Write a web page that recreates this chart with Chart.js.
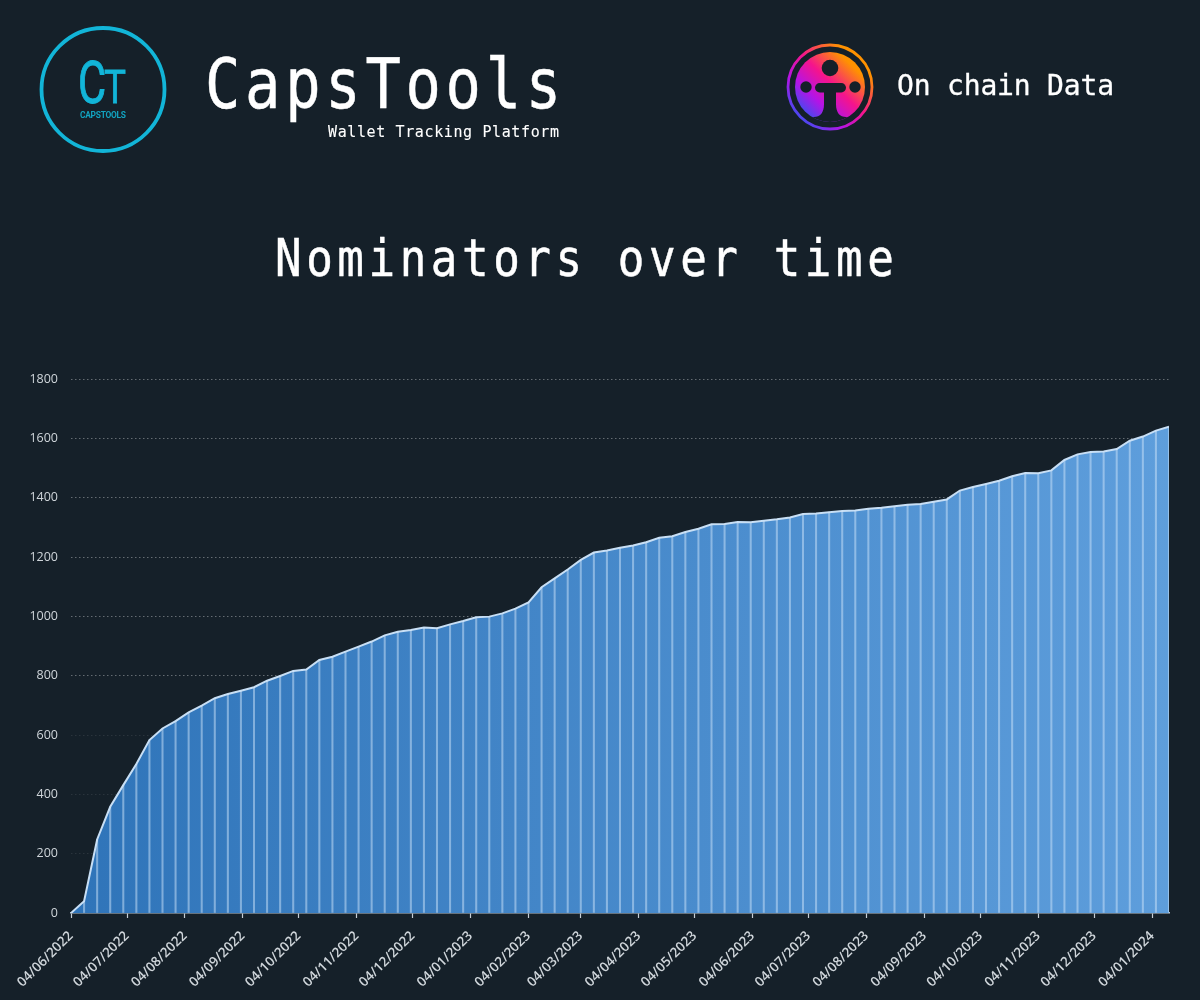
<!DOCTYPE html>
<html lang="en">
<head>
<meta charset="utf-8">
<title>Nominators over time</title>
<script src="https://cdn.jsdelivr.net/npm/chart.js@4"></script>
<style>
  html, body { margin: 0; padding: 0; background: #152029; width: 1200px; height: 1000px; overflow: hidden; }
  #chart { position: absolute; left: 0; top: 0; }
  #head { position: absolute; left: 0; top: 0; }
  .mono { font-family: "DejaVu Sans Mono", monospace; fill: #ffffff; stroke: #ffffff; }
</style>
</head>
<body>
<canvas id="chart" width="1200" height="1000"></canvas>
<svg id="head" width="1200" height="340" viewBox="0 0 1200 340" xmlns="http://www.w3.org/2000/svg">
  <defs>
    <linearGradient id="tokenGrad" x1="0.1" y1="0.92" x2="0.88" y2="0.1">
      <stop offset="0" stop-color="#2f55f2"/>
      <stop offset="0.28" stop-color="#b414e6"/>
      <stop offset="0.56" stop-color="#f5148c"/>
      <stop offset="0.9" stop-color="#ff9200"/>
    </linearGradient>
    <clipPath id="tokenClip"><circle cx="830" cy="87" r="35"/></clipPath>
  </defs>

  <circle cx="103" cy="89.5" r="61.5" fill="none" stroke="#12b5d8" stroke-width="3.8"/>
  <text transform="translate(78,103) scale(.72,1)" font-family="Roboto, sans-serif" font-size="60" fill="#12b5d8" stroke="#12b5d8" stroke-width="1">C</text>
  <text transform="translate(104,103) scale(.8,1)" font-family="Roboto, sans-serif" font-size="46" fill="#12b5d8" stroke="#12b5d8" stroke-width="0.8">T</text>
  <text x="80" y="118" font-family="Roboto, sans-serif" font-weight="700" font-size="8.4" textLength="46" fill="#12a3c0">CAPSTOOLS</text>

  <text class="mono" stroke-width="0.5" transform="translate(205,108) scale(.84,1)" font-size="70" textLength="424">CapsTools</text>
  <text class="mono" stroke-width="0.1" transform="translate(328,137)" font-size="15" textLength="231">Wallet Tracking Platform</text>

  <circle cx="830" cy="87" r="42" fill="none" stroke="url(#tokenGrad)" stroke-width="2.8"/>
  <circle cx="830" cy="87" r="35" fill="url(#tokenGrad)"/>
  <g clip-path="url(#tokenClip)" fill="#152029">
    <circle cx="830" cy="68" r="8.3"/>
    <circle cx="806" cy="87" r="5.7"/>
    <circle cx="855" cy="87" r="5.7"/>
    <rect x="815" y="83" width="31" height="9.5" rx="4.7"/>
    <rect x="824" y="88" width="12" height="40"/>
    <path d="M824 104 C824 113 820 117 814 117 C812 117 809 117.5 806 115 L810 125 L824 125 Z"/>
    <path d="M836 104 C836 113 840 117 846 117 C848 117 851 117.5 854 115 L850 125 L836 125 Z"/>
  </g>
  <text class="mono" stroke-width="0.3" transform="translate(897,95)" font-size="28" textLength="217">On chain Data</text>

  <text class="mono" stroke-width="0.5" transform="translate(275,276) scale(.85,1)" font-size="52" textLength="728">Nominators over time</text>
</svg>

<script>
const weekDates = [
  '04/06/2022','11/06/2022','18/06/2022','25/06/2022','02/07/2022','09/07/2022','16/07/2022','23/07/2022','30/07/2022',
  '06/08/2022','13/08/2022','20/08/2022','27/08/2022','03/09/2022','10/09/2022','17/09/2022','24/09/2022',
  '01/10/2022','08/10/2022','15/10/2022','22/10/2022','29/10/2022','05/11/2022','12/11/2022','19/11/2022','26/11/2022',
  '03/12/2022','10/12/2022','17/12/2022','24/12/2022','31/12/2022','07/01/2023','14/01/2023','21/01/2023','28/01/2023',
  '04/02/2023','11/02/2023','18/02/2023','25/02/2023','04/03/2023','11/03/2023','18/03/2023','25/03/2023',
  '01/04/2023','08/04/2023','15/04/2023','22/04/2023','29/04/2023','06/05/2023','13/05/2023','20/05/2023','27/05/2023',
  '03/06/2023','10/06/2023','17/06/2023','24/06/2023','01/07/2023','08/07/2023','15/07/2023','22/07/2023','29/07/2023',
  '05/08/2023','12/08/2023','19/08/2023','26/08/2023','02/09/2023','09/09/2023','16/09/2023','23/09/2023','30/09/2023',
  '07/10/2023','14/10/2023','21/10/2023','28/10/2023','04/11/2023','11/11/2023','18/11/2023','25/11/2023',
  '02/12/2023','09/12/2023','16/12/2023','23/12/2023','30/12/2023','06/01/2024','13/01/2024'
];
const nominators = [
  0, 40, 248, 358, 431, 502, 583, 622, 647, 676, 699, 724, 738, 749, 761, 783, 799,
  816, 821, 853, 864, 881, 898, 915, 936, 948, 954, 962, 960, 973, 984, 997, 999, 1010, 1026,
  1047, 1098, 1128, 1158, 1190, 1215, 1222, 1231, 1239, 1250, 1265, 1270, 1284, 1295, 1310, 1311, 1318,
  1317, 1322, 1327, 1333, 1345, 1347, 1351, 1355, 1357, 1363, 1366, 1371, 1376, 1379, 1386, 1394, 1424, 1436,
  1446, 1457, 1472, 1483, 1482, 1492, 1527, 1546, 1554, 1556, 1564, 1592, 1606, 1626, 1639
];
const monthTicks = [
  '04/06/2022','04/07/2022','04/08/2022','04/09/2022','04/10/2022','04/11/2022','04/12/2022','04/01/2023','04/02/2023','04/03/2023',
  '04/04/2023','04/05/2023','04/06/2023','04/07/2023','04/08/2023','04/09/2023','04/10/2023','04/11/2023','04/12/2023','04/01/2024'
];
const yMax = 1800;
const yStep = 200;

const toDay = s => {
  const [d, m, y] = s.split('/').map(Number);
  return Date.UTC(y, m - 1, d) / 86400000;
};
const points = weekDates.map((d, i) => ({ x: toDay(d), y: nominators[i] }));

const fillGradient = ctx => {
  const a = ctx.chart.chartArea;
  if (!a) return '#4a8acb';
  const g = ctx.chart.ctx.createLinearGradient(a.left, 0, a.right, 0);
  g.addColorStop(0, '#2f74b9');
  g.addColorStop(1, '#5e9edc');
  return g;
};

new Chart(document.getElementById('chart'), {
  data: {
    datasets: [
      {
        type: 'bar',
        label: 'Weekly markers',
        data: points,
        backgroundColor: 'rgba(205,228,250,0.5)',
        barThickness: 1.4,
        order: 0
      },
      {
        type: 'line',
        label: 'Nominators',
        data: points,
        borderColor: '#c8dff5',
        borderWidth: 2,
        backgroundColor: fillGradient,
        fill: 'origin',
        pointRadius: 0,
        tension: 0,
        order: 1
      }
    ]
  },
  options: {
    responsive: false,
    animation: false,
    events: [],
    layout: { padding: { left: 0, right: 31, top: 379, bottom: 0 } },
    plugins: { legend: { display: false }, tooltip: { enabled: false }, title: { display: false } },
    scales: {
      x: {
        type: 'linear',
        offset: false,
        min: toDay(weekDates[0]),
        max: toDay(weekDates[weekDates.length - 1]),
        afterBuildTicks: s => { s.ticks = monthTicks.map(t => ({ value: toDay(t) })); },
        afterFit: s => { s.height = 87; },
        border: { display: true, color: '#b9c6d2', width: 1.4 },
        grid: { offset: false, drawOnChartArea: false, drawTicks: true, tickLength: 5, tickColor: '#c5ced6', tickWidth: 1.2 },
        ticks: {
          autoSkip: false,
          minRotation: 45,
          maxRotation: 45,
          padding: 10,
          color: '#cfd5da',
          font: { family: '"Open Sans", sans-serif', size: 13.5, weight: '600' },
          callback: (v, i) => monthTicks[i]
        }
      },
      y: {
        min: 0,
        max: yMax,
        afterFit: s => { s.width = 71; },
        border: { display: false, dash: [1.5, 2.5] },
        grid: {
          color: c => c.tick.value === 0 ? 'rgba(0,0,0,0)' : (c.tick.value <= 600 ? 'rgba(255,255,255,0.09)' : 'rgba(255,255,255,0.34)'),
          lineWidth: 1,
          tickLength: 0,
          drawTicks: false
        },
        ticks: {
          stepSize: yStep,
          padding: 13,
          color: '#cfd5da',
          font: { family: '"Open Sans", sans-serif', size: 12.5 },
          callback: v => String(v)
        }
      }
    }
  }
});
</script>
</body>
</html>
